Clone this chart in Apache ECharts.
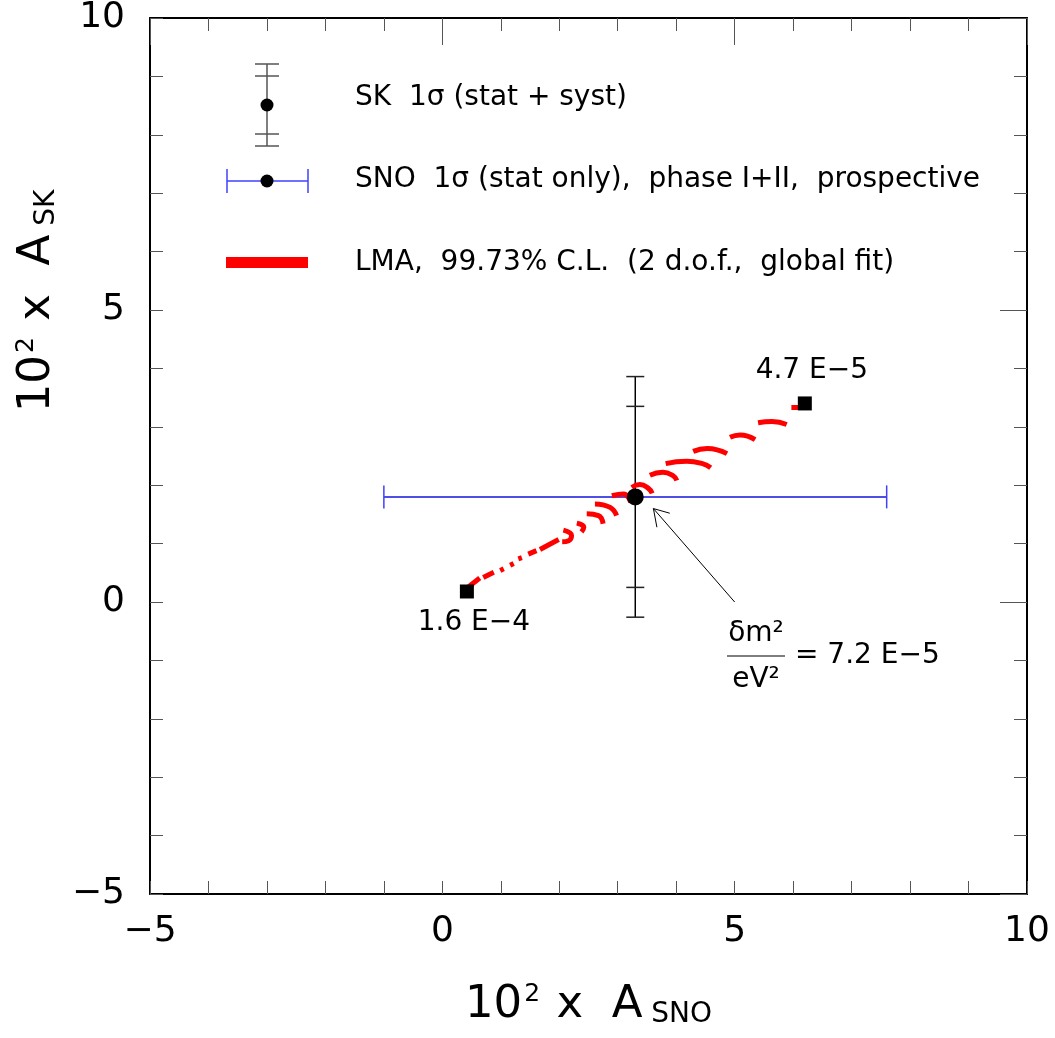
<!DOCTYPE html>
<html><head><meta charset="utf-8">
<script src="https://cdn.jsdelivr.net/npm/echarts@6/dist/echarts.min.js"></script>
<style>html,body{margin:0;padding:0;background:#fff}#c{width:1055px;height:1038px}</style>
</head><body><div id="c"></div>
<script>
// ---- data ----
const xRange = [-5, 10];
const yRange = [-5, 10];
const skPoint = [3.3, 1.8];          // central value (A_SNO, A_SK)
const skStatErr = 1.55;              // SK stat error (inner caps)
const skTotErr = 2.06;               // SK stat+syst error (outer caps)
const snoErr = 4.3;                  // SNO 1 sigma stat
const endPoints = [[6.2, 3.4], [0.42, 0.18]];
const endLabels = ['4.7 E\u22125', '1.6 E\u22124'];
const lmaSegments = [
  [[5.97, 3.33], [6.12, 3.33]],
  [[5.40, 3.07], [5.64, 3.09], [5.89, 3.04]],
  [[4.92, 2.82], [5.09, 2.86], [5.35, 2.78]],
  [[4.29, 2.58], [4.53, 2.63], [4.87, 2.54]],
  [[3.82, 2.37], [4.18, 2.41], [4.45, 2.37], [4.59, 2.30]],
  [[3.55, 2.17], [3.77, 2.22], [3.95, 2.16], [4.01, 2.08]],
  [[3.24, 1.96], [3.38, 2.01], [3.52, 1.95], [3.59, 1.86]],
  [[2.90, 1.82], [3.10, 1.85], [3.22, 1.71]],
  [[2.61, 1.68], [2.87, 1.62], [2.98, 1.48]],
  [[2.47, 1.51], [2.67, 1.48], [2.75, 1.34]],
  [[2.30, 1.35], [2.42, 1.28], [2.38, 1.20]],
  [[2.07, 1.23], [2.21, 1.14], [2.16, 1.05], [2.05, 1.03]],
  [[1.67, 0.90], [1.99, 1.07]],
  [[1.47, 0.82], [1.61, 0.88]],
  [[1.30, 0.74], [1.36, 0.76]],
  [[1.16, 0.63], [1.22, 0.66]],
  [[0.99, 0.54], [1.05, 0.57]],
  [[0.70, 0.42], [0.88, 0.51]],
  [[0.45, 0.26], [0.64, 0.41]]
];
const arrowShaft = [[5.0, 0.0], [3.61, 1.60]];
const arrowHead = [[3.89, 1.52], [3.61, 1.60], [3.67, 1.28]];

const FONT = 'DejaVu Sans';
const minus = v => (v < 0 ? '\u2212' + (-v) : String(v));

function axisCommon(pos, long, showLabel) {
  const isX = pos === 'bottom' || pos === 'top';
  return {
    type: 'value', position: pos, min: isX ? xRange[0] : yRange[0],
    max: isX ? xRange[1] : yRange[1], interval: 5,
    axisLine: { show: true, onZero: false, lineStyle: { color: '#000', width: 2 } },
    axisTick: { show: true, inside: true, length: long ? 27 : 13, lineStyle: { color: '#555', width: 1 } },
    minorTick: { show: true, splitNumber: 5, length: 13, lineStyle: { color: '#555', width: 1 } },
    splitLine: { show: false },
    axisLabel: { show: showLabel, fontFamily: FONT, fontSize: 36, color: '#000', margin: isX ? 20 : 25, formatter: minus }
  };
}

const nameRich = {
  n: { fontFamily: FONT, fontSize: 45, color: '#000' },
  s: { fontFamily: FONT, fontSize: 25, color: '#000', verticalAlign: 'top', padding: [0, 2, 22, 2] },
  b: { fontFamily: FONT, fontSize: 28, color: '#000', verticalAlign: 'bottom', padding: [14, 0, 0, 0] }
};

const xb = axisCommon('bottom', false, true);
xb.name = '{n|10}{s|2}{n| x  A}{b| SNO}';
xb.nameLocation = 'middle'; xb.nameGap = 88;
xb.nameTextStyle = { rich: nameRich };
const xt = axisCommon('top', true, false);
const yl = axisCommon('left', false, true);
yl.name = '{n|10}{s|2}{n| x  A}{b| SK}';
yl.nameLocation = 'middle'; yl.nameGap = 82; yl.nameRotate = 90;
yl.nameTextStyle = { rich: nameRich, padding: [0, 0, 0, 310] };
const yr = axisCommon('right', true, false);

const series = [];
series.push({
  type: 'custom', xAxisIndex: 0, yAxisIndex: 0, z: 2,
  data: [[skPoint[0], skPoint[1], snoErr]],
  renderItem(p, api) {
    const x = api.value(0), y = api.value(1), e = api.value(2);
    const l = api.coord([x - e, y]), r = api.coord([x + e, y]);
    const hh = 11.5;
    return { type: 'group', children: [
      { type: 'line', shape: { x1: l[0], y1: l[1], x2: r[0], y2: r[1] }, style: { stroke: '#1515e0', lineWidth: 1.5 } },
      { type: 'line', shape: { x1: l[0], y1: l[1] - hh, x2: l[0], y2: l[1] + hh }, style: { stroke: '#4040ff', lineWidth: 1.5 } },
      { type: 'line', shape: { x1: r[0], y1: r[1] - hh, x2: r[0], y2: r[1] + hh }, style: { stroke: '#4040ff', lineWidth: 1.5 } }
    ] };
  }
});
series.push({
  type: 'custom', xAxisIndex: 0, yAxisIndex: 0, z: 2,
  data: [[skPoint[0], skPoint[1], skStatErr, skTotErr]],
  renderItem(p, api) {
    const x = api.value(0), y = api.value(1), s = api.value(2), t = api.value(3);
    const top = api.coord([x, y + t]), bot = api.coord([x, y - t]);
    const st = api.coord([x, y + s]), sb = api.coord([x, y - s]);
    const hw = 9;
    const ch = [{ type: 'line', shape: { x1: top[0], y1: top[1], x2: bot[0], y2: bot[1] }, style: { stroke: '#000', lineWidth: 1.5 } }];
    [top, bot, st, sb].forEach(q => ch.push({ type: 'line', shape: { x1: q[0] - hw, y1: q[1], x2: q[0] + hw, y2: q[1] }, style: { stroke: '#222', lineWidth: 1.5 } }));
    return { type: 'group', children: ch };
  }
});
lmaSegments.forEach(seg => series.push({
  type: 'line', data: seg, smooth: 0.5, symbol: 'none', z: 3, silent: true,
  lineStyle: { color: '#ff0000', width: 5, cap: 'butt' }
}));
series.push({ type: 'line', data: arrowShaft, symbol: 'none', z: 3, lineStyle: { color: '#000', width: 1 } });
series.push({ type: 'line', data: arrowHead, symbol: 'none', z: 3, lineStyle: { color: '#000', width: 1 } });
series.push({
  type: 'scatter', data: endPoints.map((p, i) => ({ value: p, label: {
    show: true, formatter: endLabels[i], position: i === 0 ? 'top' : 'bottom', distance: i === 0 ? 12 : 10, offset: [7, 0],
    fontFamily: FONT, fontSize: 28, color: '#000' } })),
  symbol: 'rect', symbolSize: 14, itemStyle: { color: '#000', opacity: 1 }, z: 4
});
series.push({ type: 'scatter', data: [skPoint], symbol: 'circle', symbolSize: 17, itemStyle: { color: '#000', opacity: 1 }, z: 5 });

const txt = (x, y, t, fs, align) => ({ type: 'text', x, y, style: { text: t, fontFamily: FONT, fontSize: fs, fill: '#000', align: align || 'left', verticalAlign: 'middle' } });
const ln = (x1, y1, x2, y2, c, w) => ({ type: 'line', shape: { x1, y1, x2, y2 }, style: { stroke: c, lineWidth: w } });

const graphic = [
  // legend: SK
  ln(267, 64, 267, 146, '#555', 1.5), ln(255, 64, 279, 64, '#555', 1.5), ln(255, 76, 279, 76, '#555', 1.5),
  ln(255, 134, 279, 134, '#555', 1.5), ln(255, 146, 279, 146, '#555', 1.5),
  { type: 'circle', shape: { cx: 267, cy: 105, r: 6.5 }, style: { fill: '#000' } },
  txt(355, 98, 'SK  1\u03c3 (stat + syst)', 28),
  // legend: SNO
  ln(227, 181, 308, 181, '#7070ff', 2), ln(227, 169, 227, 193, '#4040ff', 1.5), ln(308, 169, 308, 193, '#4040ff', 1.5),
  { type: 'circle', shape: { cx: 267, cy: 181, r: 6.5 }, style: { fill: '#000' } },
  txt(355, 180, 'SNO  1\u03c3 (stat only),  phase I+II,  prospective', 28),
  // legend: LMA
  { type: 'rect', shape: { x: 226, y: 257, width: 82, height: 11 }, style: { fill: '#ff0000' } },
  txt(355, 263, 'LMA,  99.73% C.L.  (2 d.o.f.,  global fit)', 28),
  // annotation
  txt(756, 634, '\u03b4m\u00b2', 28, 'center'),
  ln(727, 656, 785, 656, '#555', 1.5),
  txt(756, 680, 'eV\u00b2', 28, 'center'),
  txt(795, 656, '= 7.2 E\u22125', 28)
];

const chart = echarts.init(document.getElementById('c'));
chart.setOption({
  animation: false,
  backgroundColor: '#fff',
  grid: { left: 150, top: 17, right: 28, bottom: 144 },
  xAxis: [xb, xt],
  yAxis: [yl, yr],
  series,
  graphic
});
</script></body></html>
